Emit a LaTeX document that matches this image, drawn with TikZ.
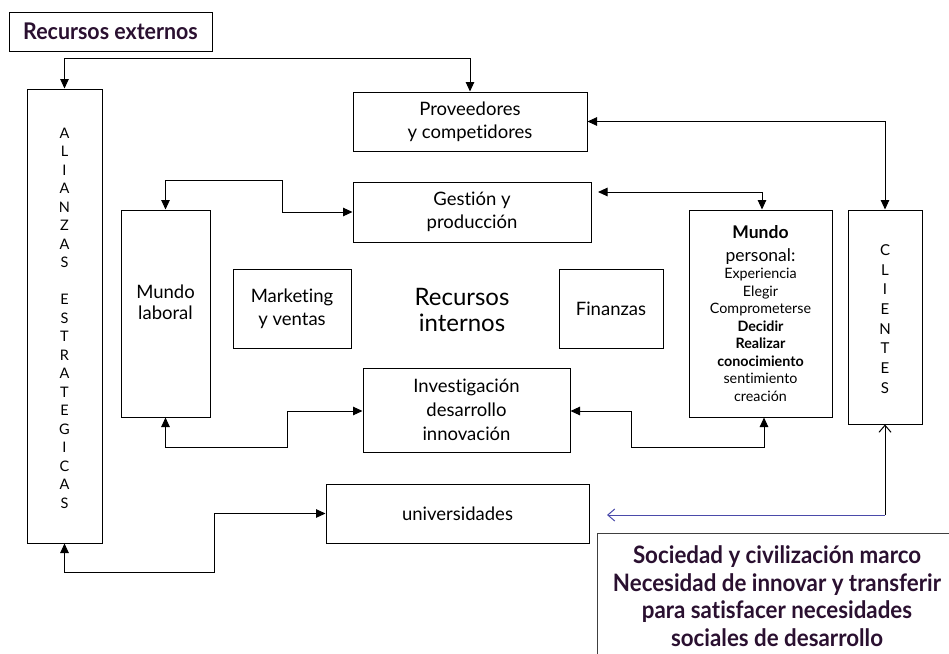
\documentclass[tikz,border=0pt]{standalone}
\usepackage{fontspec}
\setmainfont{Lato}[Ligatures=NoCommon]
\newfontfamily\headfont[FakeStretch=0.93,Ligatures=NoCommon]{Lato}
\usetikzlibrary{arrows.meta}
\definecolor{ink}{HTML}{2A1030}
\definecolor{navy}{HTML}{4A4AAA}

\begin{document}
\begin{tikzpicture}[x=1pt,y=-1pt,
  box/.style={draw, line width=1pt, inner sep=0pt, align=center,
    font=\fontsize{18.5}{23}\selectfont},
  plain/.style={inner sep=0pt, align=center},
  link/.style={line width=1pt, {Triangle[length=9.5pt,width=8.5pt]}-{Triangle[length=9.5pt,width=8.5pt]}},
  open/.style={line width=1pt, -{Straight Barb[length=7pt,width=12pt]}},
  title/.style={plain, text=ink, font=\headfont\bfseries\fontsize{24}{27.5}\selectfont},
  letters/.style={plain, font=\fontsize{14.5}{18.5}\selectfont},
]
\useasboundingbox (0,0) rectangle (949,653);

% outer frame label
\node[box, minimum width=203pt, minimum height=39pt, text=ink,
      font=\headfont\bfseries\fontsize{23}{26}\selectfont] (ext) at (110.5,31.5) {Recursos externos};

% vertical side columns
\node[box, minimum width=75pt, minimum height=454pt] (ali) at (64.5,316) {};
\node[letters] (alitxt) at (64.5,318)
  {A\\L\\I\\A\\N\\Z\\A\\S\\[18.5pt]E\\S\\T\\R\\A\\T\\E\\G\\I\\C\\A\\S};
\node[box, minimum width=74pt, minimum height=214pt] (cli) at (885,317) {};
\node[letters, font=\fontsize{15}{19.7}\selectfont] (clitxt) at (885,319)
  {C\\L\\I\\E\\N\\T\\E\\S};

% boxes
\node[box, minimum width=234pt, minimum height=59pt] (prov) at (470,121.5) {Proveedores\\y competidores};
\node[box, minimum width=238pt, minimum height=60pt] (gest) at (472,212) {Gestión y\\producción};
\node[box, minimum width=89pt, minimum height=207pt] (mlab) at (165.5,313.5) {};
\node[plain, font=\fontsize{18.5}{21}\selectfont] (mlabtxt) at (165.5,302) {Mundo\\laboral};
\node[box, minimum width=118pt, minimum height=79pt] (mkt) at (292,308.5) {Marketing\\y ventas};
\node[plain, font=\fontsize{24}{26.5}\selectfont] (rint) at (462,310) {Recursos\\internos};
\node[box, minimum width=104pt, minimum height=79pt] (fin) at (611,308.5) {Finanzas};
\node[box, minimum width=207pt, minimum height=84pt,
      font=\fontsize{18.5}{24}\selectfont] (inv) at (466.5,410) {Investigación\\desarrollo\\innovación};
\node[box, minimum width=143pt, minimum height=207pt,
      font=\fontsize{14.3}{17.5}\selectfont] (mper) at (760.5,313.5)
  {{\fontsize{17.5}{17.5}\selectfont\bfseries Mundo}\\[5pt]
   {\fontsize{17.5}{17.5}\selectfont personal:}\\
   Experiencia\\Elegir\\Comprometerse\\\textbf{Decidir}\\\textbf{Realizar}\\
   \textbf{conocimiento}\\sentimiento\\creación};
\node[box, minimum width=263pt, minimum height=59pt] (uni) at (457.5,513.5) {universidades};

% society frame, running off the page
\begin{scope}
  \clip (0,0) rectangle (949,653);
  \draw[line width=1pt, draw=black!75] (597,670) -- (597,533) -- (960,533);
\end{scope}
\node[title] (soc) at (777,596)
  {Sociedad y civilización marco\\Necesidad de innovar y transferir\\para satisfacer necesidades\\sociales de desarrollo};

% connectors
\coordinate (gtip) at (598,192);
\coordinate (blueend) at (607,515);

\draw[link] (ali.north) -- (64.5,58) -| (prov.north);
\draw[link] (prov.east) -| (cli.north);
\draw[link] (gtip) -| ([xshift=1.5pt]mper.north);
\draw[link] (mlab.north) -- (165.5,180) -- (282,180) |- (gest.west);
\draw[link] (mlab.south) -- (165.5,447) -- (287,447) |- ([yshift=-1pt]inv.west);
\draw[link] ([yshift=-1pt]inv.east) -- (631,411) -- (631,447) -| ([xshift=3.5pt]mper.south);
\draw[link] (ali.south) -- (64.5,572) -- (214,572) |- (uni.west);

% society link back to the universities
\draw[open] (885,515) -- (cli.south);
\draw[open, draw=navy] (885,515) -- (blueend);
\end{tikzpicture}
\end{document}
